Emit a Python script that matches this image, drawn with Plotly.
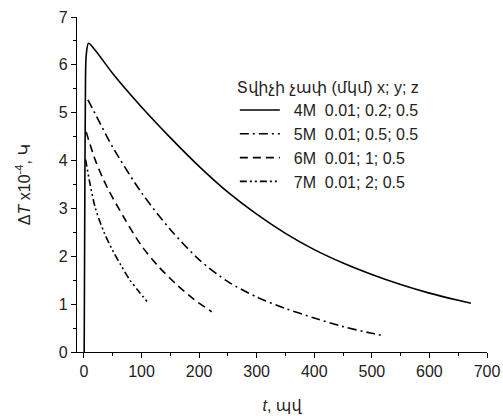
import plotly.graph_objects as go

# Data
t_4M = [0.5, 1.5, 2.5, 4, 8, 20, 50, 100, 150, 200, 250, 300, 350, 400, 450, 500, 550, 600, 650, 672]
y_4M = [0.0, 3.0, 5.2, 6.2, 6.45, 6.3, 5.82, 5.12, 4.48, 3.88, 3.34, 2.88, 2.48, 2.14, 1.86, 1.62, 1.41, 1.23, 1.08, 1.02]

t_5M = [7, 25, 50, 100, 150, 200, 250, 300, 350, 400, 450, 500, 520]
y_5M = [5.27, 4.85, 4.28, 3.33, 2.56, 1.93, 1.47, 1.15, 0.91, 0.71, 0.53, 0.39, 0.34]

t_6M = [4, 20, 40, 70, 100, 130, 160, 190, 222]
y_6M = [4.6, 4.0, 3.45, 2.8, 2.22, 1.78, 1.42, 1.11, 0.84]

t_7M = [3, 10, 20, 35, 50, 65, 80, 95, 110]
y_7M = [4.02, 3.55, 3.0, 2.5, 2.12, 1.8, 1.5, 1.27, 1.05]

NB = "\u00a0"
series_names = [NB * 2 + "4M" + NB * 2 + "0.01; 0.2; 0.5",
                NB * 2 + "5M" + NB * 2 + "0.01; 0.5; 0.5",
                NB * 2 + "6M" + NB * 2 + "0.01; 1; 0.5",
                NB * 2 + "7M" + NB * 2 + "0.01; 2; 0.5"]
legend_title = "Տվիչի չափ (մկմ) x; y; z"
x_title = "<i>t</i>, պվ"
y_title = "Δ<i>T</i> x10<sup>-4</sup>, Կ"

FONT = "Arial, Liberation Sans, DejaVu Sans, sans-serif"

fig = go.Figure()
dashes = ["solid", "9px,4px,2px,4px", "8px,5px", "7px,3px,2px,3px,2px,3px"]
data = [(t_4M, y_4M), (t_5M, y_5M), (t_6M, y_6M), (t_7M, y_7M)]
for (tx, ty), name, dash in zip(data, series_names, dashes):
    fig.add_trace(go.Scatter(
        x=tx, y=ty, mode="lines", name=name,
        line=dict(color="black", width=1.6, dash=dash, shape="spline", smoothing=0.8),
    ))

fig.update_layout(
    width=503, height=416,
    margin=dict(l=77, r=16, t=17, b=64),
    paper_bgcolor="white", plot_bgcolor="white",
    font=dict(family=FONT, size=16, color="#222"),
    showlegend=True,
    legend=dict(
        x=0.385, y=0.835, xanchor="left", yanchor="top",
        bgcolor="rgba(255,255,255,0)",
        font=dict(size=16),
        title=dict(text=legend_title, font=dict(size=16)),
        itemwidth=40, tracegroupgap=0,
    ),
)
fig.update_xaxes(
    range=[-12, 700], showgrid=False, zeroline=False, automargin=False,
    showline=True, linecolor="black", linewidth=1.3,
    ticks="outside", ticklen=5, tickcolor="black", tickwidth=1.2,
    tickmode="array", tickvals=[0, 100, 200, 300, 400, 500, 600, 700],
    minor=dict(ticks="outside", ticklen=3, tickcolor="black", dtick=50, tick0=0),
    title=dict(text=x_title, font=dict(size=16), standoff=20),
    tickfont=dict(size=16),
)
fig.update_yaxes(
    range=[0, 7], showgrid=False, zeroline=False, automargin=False,
    showline=True, linecolor="black", linewidth=1.3,
    ticks="outside", ticklen=5, tickcolor="black", tickwidth=1.2,
    dtick=1, tick0=0,
    minor=dict(ticks="outside", ticklen=3, tickcolor="black", dtick=0.5, tick0=0),
    title=dict(text=y_title, font=dict(size=16), standoff=24),
    tickfont=dict(size=16),
)

fig.write_html("out.html", config={"displayModeBar": False},
               post_script="document.body.style.margin='0';")
